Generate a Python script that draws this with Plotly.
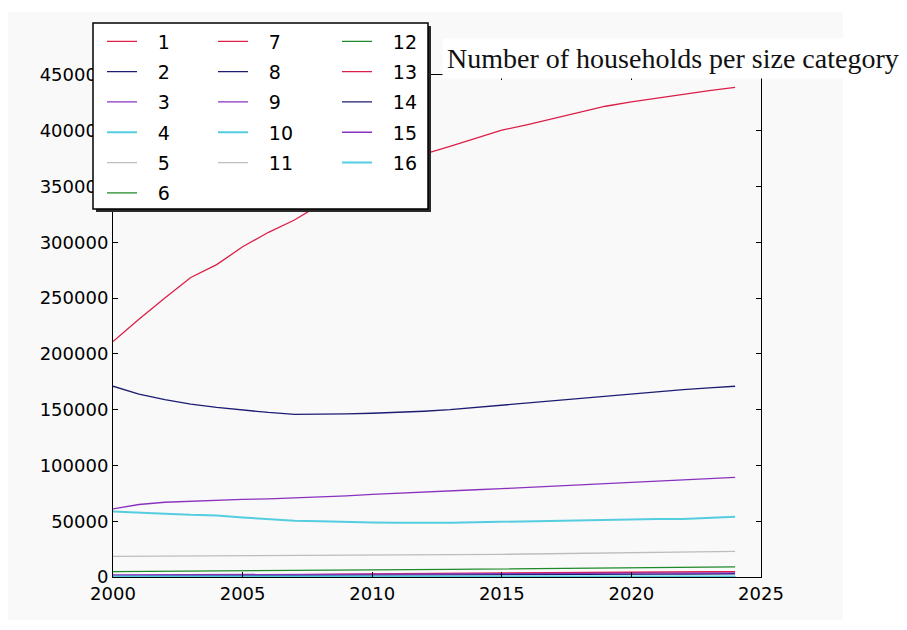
import plotly.graph_objects as go

years = list(range(2000, 2025))

s1 = [211000, 231000, 250000, 268500, 280000, 296000, 309000, 320000, 334000, 345000, 356000, 368000, 379000,
      386000, 393000, 400500, 405500, 411000, 416500, 422000, 426000, 429500, 433000, 436000, 439000]
s2 = [171000, 164000, 159000, 155000, 152000, 149500, 147500, 145800, 145800, 146200, 146800, 147600, 148600,
      150000, 152000, 154500, 156500, 158500, 160500, 162500, 164500, 166500, 168000, 169500, 171000]
s3 = [61000, 65000, 67000, 68000, 68800, 69500, 70000, 70800, 71500, 72800, 74000, 75200, 76200,
      77200, 78200, 79200, 80200, 81200, 82200, 83500, 84800, 86000, 87200, 88300, 89300]
s4 = [58800, 58000, 56800, 55700, 55200, 53300, 51600, 50500, 49900, 49200, 48800, 48600, 48500,
      48700, 49100, 49600, 50100, 50500, 51000, 51500, 51900, 52000, 52100, 53000, 54000]
s5 = [18400, 18500, 18600, 18700, 18800, 18900, 18900, 19000, 19100, 19200, 19300, 19500, 19700,
      19900, 20100, 20300, 20600, 20900, 21200, 21500, 21800, 22100, 22400, 22700, 23000]
s6 = [4900, 5000, 5100, 5200, 5300, 5500, 5600, 5700, 5900, 6000, 6200, 6400, 6600,
      6800, 7000, 7200, 7400, 7600, 7800, 8000, 8200, 8400, 8600, 8800, 9000]
s7 = [600, 750, 900, 1050, 1200, 1400, 1600, 1800, 2000, 2200, 2700, 3000, 3200,
      3300, 3500, 3600, 3800, 3900, 4000, 4200, 4300, 4400, 4600, 4700, 4800]
s8 = [1000, 1050, 1100, 1150, 1200, 1300, 1350, 1400, 1500, 1550, 1600, 1700, 1800,
      1850, 1900, 2000, 2100, 2200, 2300, 2400, 2500, 2600, 2700, 2800, 2900]
s9 = [1800, 1850, 1900, 1950, 2000, 2050, 2100, 2150, 2200, 2250, 2300, 2400, 2500,
      2600, 2700, 2800, 2900, 3000, 3100, 3200, 3300, 3400, 3500, 3600, 3700]
s10 = [400, 400, 410, 410, 420, 420, 430, 430, 440, 440, 450, 450, 460,
       460, 470, 470, 480, 480, 490, 490, 500, 500, 510, 510, 520]
s11 = [300, 300, 300, 310, 310, 310, 320, 320, 320, 330, 330, 330, 340,
       340, 340, 350, 350, 350, 360, 360, 360, 370, 370, 370, 380]
s12 = [200, 200, 200, 200, 210, 210, 210, 210, 220, 220, 220, 220, 230,
       230, 230, 230, 240, 240, 240, 240, 250, 250, 250, 250, 260]
s13 = [150, 150, 150, 150, 150, 160, 160, 160, 160, 160, 170, 170, 170,
       170, 170, 180, 180, 180, 180, 180, 190, 190, 190, 190, 200]
s14 = [100, 100, 100, 100, 100, 100, 110, 110, 110, 110, 110, 110, 120,
       120, 120, 120, 120, 120, 130, 130, 130, 130, 130, 130, 140]
s15 = [60, 60, 60, 60, 60, 60, 60, 70, 70, 70, 70, 70, 70,
       70, 80, 80, 80, 80, 80, 80, 80, 90, 90, 90, 90]
s16 = [30, 30, 30, 30, 30, 30, 30, 30, 40, 40, 40, 40, 40,
       40, 40, 40, 50, 50, 50, 50, 50, 50, 50, 50, 50]

series = [s1, s2, s3, s4, s5, s6, s7, s8, s9, s10, s11, s12, s13, s14, s15, s16]
names = [str(i) for i in range(1, 17)]
palette = ["#dc1f48", "#1c1c72", "#8a32be", "#55cde0", "#bdbdbd", "#1f8a2a"]
title_text = "Number of households per size category"
x_ticks = [2000, 2005, 2010, 2015, 2020, 2025]
y_ticks = list(range(0, 450001, 50000))

# pixel helpers for the fixed plotting rectangle
L, R, T, B = 113, 761, 75, 577
def px(xp):
    return (xp - L) / (R - L)
def py(yp):
    return (B - yp) / (B - T)

fig = go.Figure()
for i, (nm, ys) in enumerate(zip(names, series)):
    if i < 6:
        leg = "legend"
    elif i < 11:
        leg = "legend2"
    else:
        leg = "legend3"
    fig.add_trace(go.Scatter(
        x=years, y=ys, mode="lines", name="\u00a0\u00a0\u2009" + nm,
        line=dict(color=palette[i % 6], width=2 if i % 6 == 3 else 1.3),
        legend=leg, legendgroup="g" + nm, showlegend=True,
    ))

legend_common = dict(
    bgcolor="rgba(0,0,0,0)", borderwidth=0, xanchor="left", yanchor="top",
    font=dict(family="DejaVu Sans", size=19, color="black"),
    tracegroupgap=2.6, itemwidth=30, traceorder="grouped",
)

tick_font = dict(family="DejaVu Sans", size=18, color="black")

fig.update_layout(
    width=907, height=630,
    margin=dict(l=L, r=907 - R, t=T, b=630 - B, pad=0),
    paper_bgcolor="white", plot_bgcolor="#f9f9f9",
    font=dict(family="DejaVu Sans", size=18, color="black"),
    showlegend=True,
    legend=dict(x=px(102), y=py(22.5), **legend_common),
    legend2=dict(x=px(213), y=py(22.5), **legend_common),
    legend3=dict(x=px(337), y=py(22.5), **legend_common),
    xaxis=dict(range=[2000, 2025], tickvals=x_ticks, ticks="inside", ticklen=5,
               tickcolor="black", showline=True, linecolor="black", linewidth=1,
               mirror="allticks", showgrid=False, zeroline=False, tickfont=tick_font),
    yaxis=dict(range=[0, 450000], tickvals=y_ticks, tickformat="d", ticks="inside", ticklen=5,
               tickcolor="black", showline=True, linecolor="black", linewidth=1,
               mirror="allticks", showgrid=False, zeroline=False, tickfont=tick_font),
    shapes=[
        dict(type="rect", xref="paper", yref="paper", layer="below",
             x0=px(8), x1=px(843), y0=py(620), y1=py(12),
             fillcolor="#f9f9f9", line=dict(width=0)),
        dict(type="rect", xref="paper", yref="paper", layer="above",
             x0=px(96), x1=px(431), y0=py(212), y1=py(26),
             fillcolor="#2a2a2a", line=dict(width=0)),
        dict(type="rect", xref="paper", yref="paper", layer="above",
             x0=px(93), x1=px(428), y0=py(209), y1=py(23),
             fillcolor="white", line=dict(color="black", width=1.5)),
    ],
    annotations=[
        dict(text=title_text, xref="paper", yref="paper", x=px(442), y=py(58),
             xanchor="left", yanchor="middle", showarrow=False,
             font=dict(family="Liberation Serif", size=28, color="#111"),
             bgcolor="white", borderpad=4),
    ],
)

fig.write_html("out.html")
